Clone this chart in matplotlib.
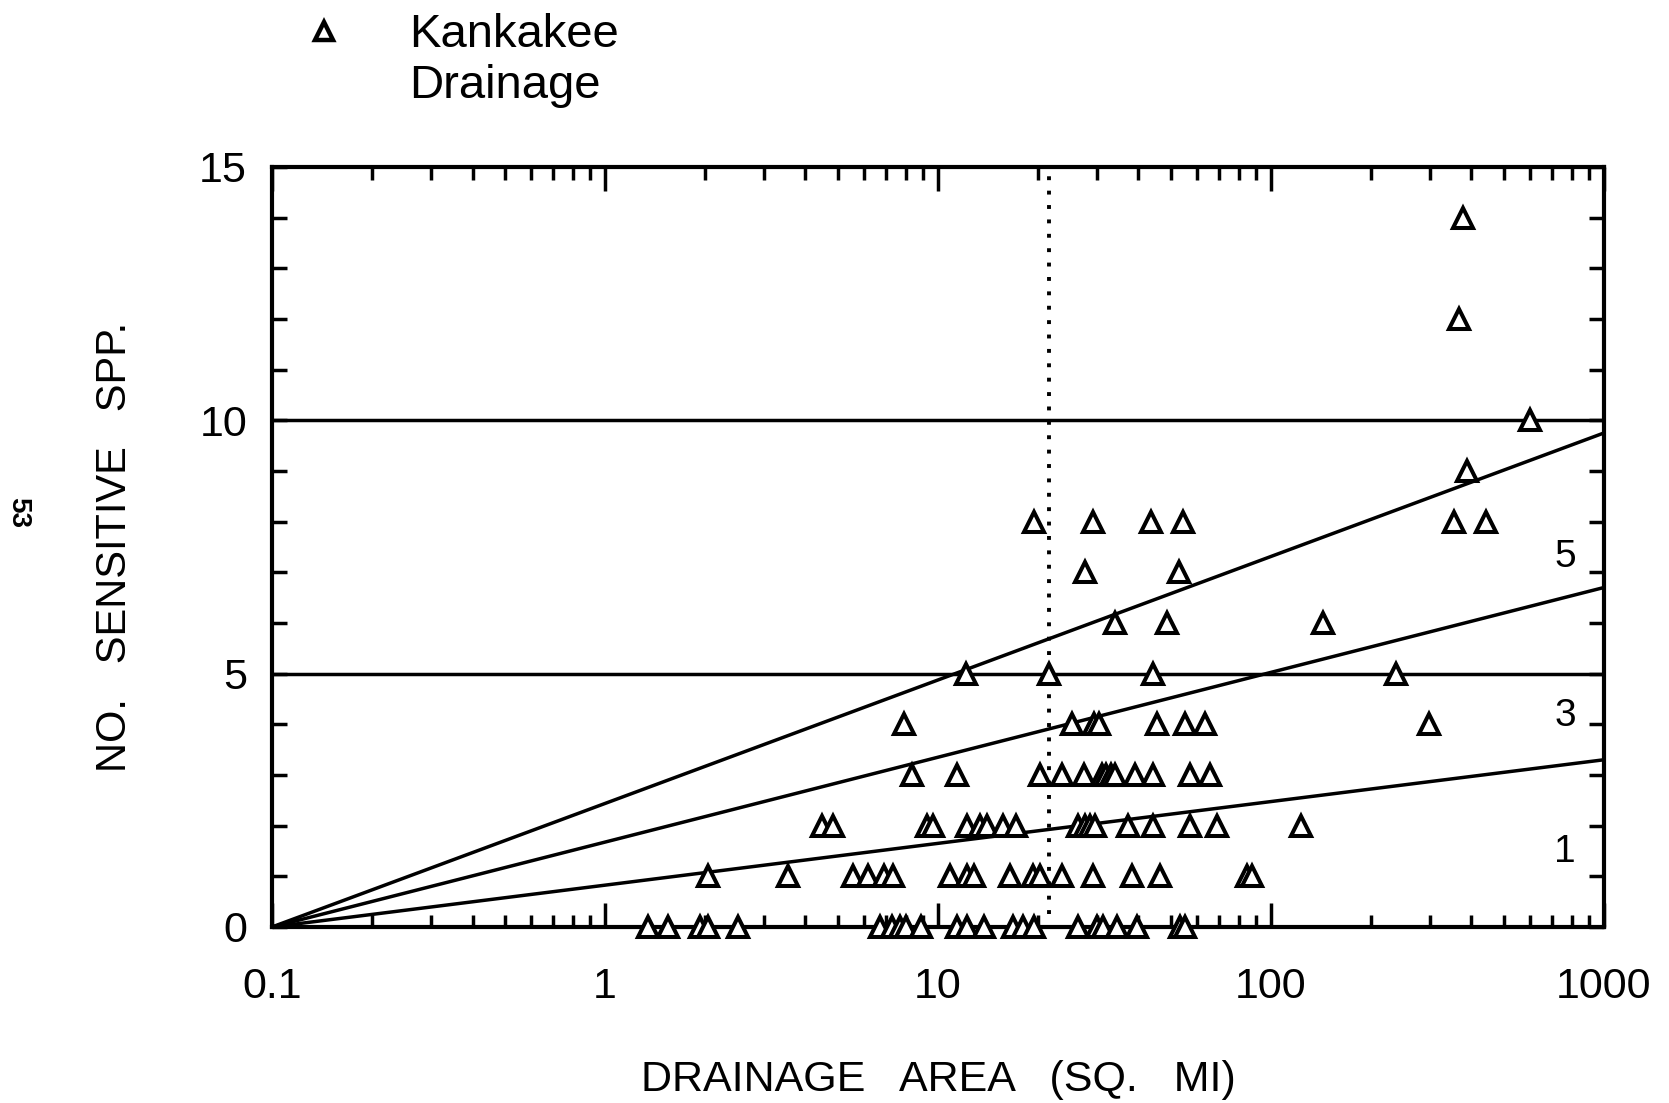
import numpy as np
import matplotlib
matplotlib.use("Agg")
import matplotlib.pyplot as plt
from matplotlib.lines import Line2D
from matplotlib.ticker import FixedLocator, FixedFormatter, NullFormatter, MultipleLocator

plt.rcParams['font.family'] = ['Liberation Sans', 'DejaVu Sans']

# drainage area (sq. mi) of each site, grouped by no. of sensitive species
area_0 = [1.35, 1.55, 1.93, 2.04, 2.51, 6.7, 7.3, 7.7, 8.0, 8.9, 11.4, 12.2, 13.7,
          16.8, 18.0, 19.4, 26.4, 30.0, 31.2, 34.6, 39.5, 53.3, 55.2]
area_1 = [2.04, 3.55, 5.57, 6.18, 6.9, 7.34, 10.9, 12.2, 12.8, 16.4, 19.3, 20.2,
          23.5, 29.3, 38.2, 46.4, 85.0, 88.0]
area_2 = [4.48, 4.85, 9.25, 9.64, 12.2, 13.4, 14.0, 15.7, 17.2, 26.4, 27.6, 28.6,
          29.6, 37.2, 44.3, 57.1, 68.7, 122.8]
area_3 = [8.34, 11.4, 20.2, 23.5, 27.5, 31.0, 32.0, 33.0, 34.0, 39.0, 44.3, 57.1, 65.6]
area_4 = [7.92, 25.2, 29.5, 30.5, 45.4, 55.2, 63.4, 299.0]
area_5 = [12.1, 21.5, 44.2, 238.0]
area_6 = [34.0, 48.7, 143.5]
area_7 = [27.7, 53.0]
area_8 = [19.4, 29.2, 43.7, 54.5, 354.0, 441.0]
area_9 = [387.0]
area_10 = [601.0]
area_12 = [367.0]
area_14 = [378.0]

rows = [(0, area_0), (1, area_1), (2, area_2), (3, area_3), (4, area_4),
        (5, area_5), (6, area_6), (7, area_7), (8, area_8), (9, area_9),
        (10, area_10), (12, area_12), (14, area_14)]

# fan of reference lines from (0.1, 0), value reached at 1000 sq. mi
fan_ends = [9.75, 6.7, 3.3]
fan_labels = ["5", "3", "1"]
fan_label_y = [7.3, 4.16, 1.48]
fan_label_x = 764
hlines_y = [5, 10]
split_area = 21.5

xticks = [0.1, 1, 10, 100, 1000]
xtick_labels = ["0.1", "1", "10", "100", "1000"]

fig = plt.figure(figsize=(16.69, 11.03), dpi=100)
ax = fig.add_axes([0.163, 0.1596, 0.798, 0.689])

ax.set_xscale("log")
ax.set_xlim(0.1, 1000)
ax.set_ylim(0, 15)

lw = 2.5
for y in hlines_y:
    ax.axhline(y, color="black", lw=lw, zorder=2)
for end in fan_ends:
    ax.plot([0.1, 1000], [0, end], color="black", lw=lw, zorder=2)
for lab, ly in zip(fan_labels, fan_label_y):
    ax.text(fan_label_x, ly, lab, fontsize=28, ha="center", va="center")

ax.plot([split_area, split_area], [0.25, 15], color="black", lw=2.8,
        linestyle=(0, (1, 2.7)), zorder=2)

xs = []
ys = []
for y, arr in rows:
    xs.extend(arr)
    ys.extend([y] * len(arr))
ax.plot(xs, ys, linestyle="none", marker="^", markersize=15, markerfacecolor="white",
        markeredgecolor="black", markeredgewidth=2.9, clip_on=False, zorder=3)

for s in ax.spines.values():
    s.set_linewidth(3.0)

ax.xaxis.set_major_locator(FixedLocator(xticks))
ax.xaxis.set_major_formatter(FixedFormatter(xtick_labels))
ax.xaxis.set_minor_formatter(NullFormatter())
ax.yaxis.set_major_locator(MultipleLocator(5))
ax.yaxis.set_minor_locator(MultipleLocator(1))
ax.tick_params(axis="x", which="major", direction="in", length=17, width=2.5,
               top=True, labelsize=31, pad=29)
ax.tick_params(axis="x", which="minor", direction="in", length=9, width=2.5, top=True)
ax.tick_params(axis="y", which="both", direction="in", length=11, width=2.5,
               right=True, labelsize=31, pad=18)

ax.set_xlabel("DRAINAGE   AREA   (SQ.   MI)", fontsize=31, labelpad=38)
ax.set_ylabel("NO.   SENSITIVE   SPP.", fontsize=30, labelpad=46)

fig.text(0.011, 0.535, "53", fontsize=20, fontweight="bold", rotation=-90,
         ha="center", va="center")

handles = [Line2D([], [], linestyle="none", marker="^", markersize=13,
                  markerfacecolor="white", markeredgecolor="black", markeredgewidth=3.2),
           Line2D([], [], linestyle="none")]
fig.legend(handles, ["Kankakee", "Drainage"], loc="upper left",
           bbox_to_anchor=(0.1798, 0.988), frameon=False, fontsize=34,
           handlelength=1.0, handletextpad=1.31, labelspacing=0.15,
           borderpad=0, borderaxespad=0)

fig.savefig("out.png", dpi=100)
